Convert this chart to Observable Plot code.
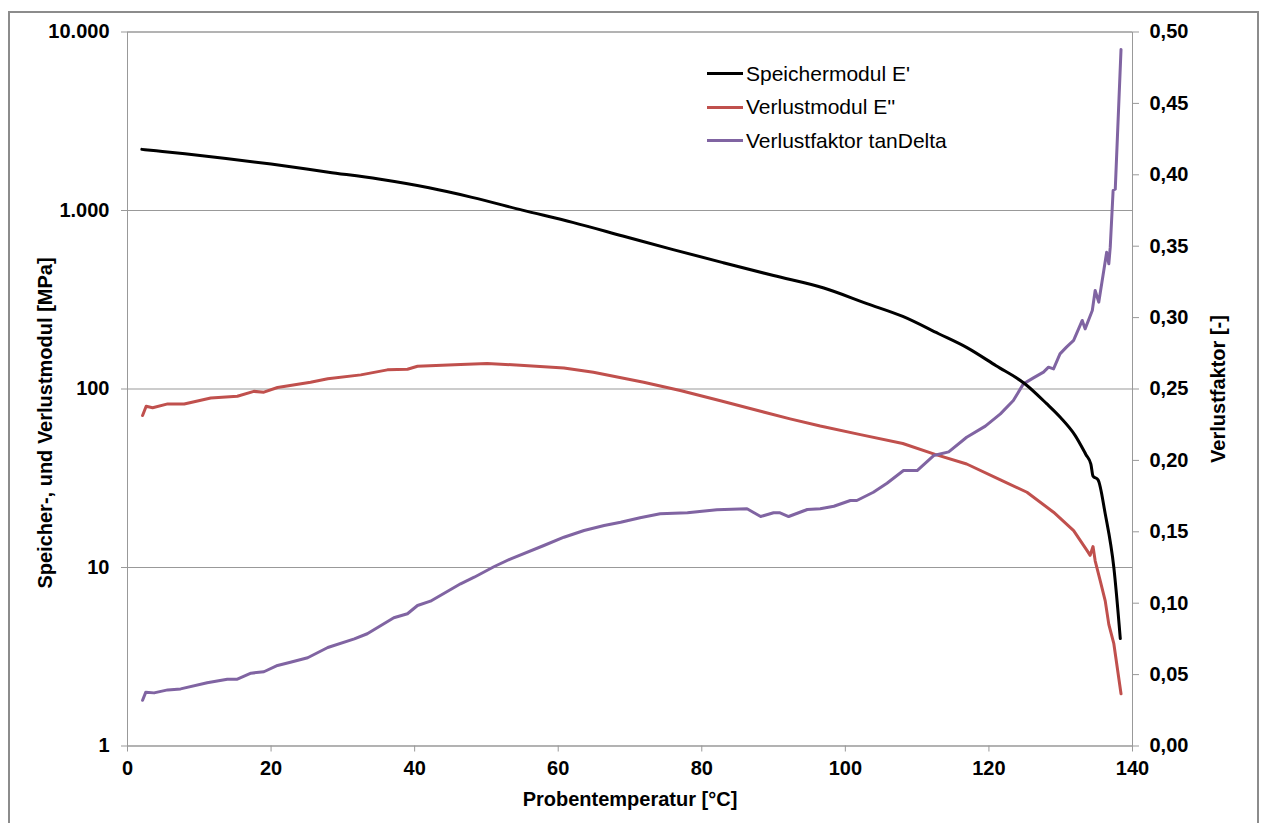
<!DOCTYPE html>
<html><head><meta charset="utf-8">
<script src="https://cdn.jsdelivr.net/npm/d3@7"></script>
<script src="https://cdn.jsdelivr.net/npm/@observablehq/plot@0.6"></script>
<style>
body{margin:0;background:#fff;font-family:"Liberation Sans",Arial,sans-serif;}
#wrap{position:relative;width:1261px;height:823px;overflow:hidden;background:#fff}
#frame{position:absolute;left:8px;top:11px;width:1251px;height:900px;border:2px solid #8c8c8c;box-sizing:border-box}
#chart{position:absolute;left:0;top:0}
#legend{position:absolute;left:707px;top:57px;font-size:21px;color:#000;font-family:"Liberation Sans",Arial,sans-serif}
#legend .row{display:flex;align-items:center;height:33.5px}
#legend .sw{width:36px;height:3px;margin-right:3px}
</style></head>
<body>
<div id="wrap"><div id="frame"></div><div id="chart"></div><div id="legend"></div></div>
<script>
// Speichermodul E' [MPa]
const tempStorage = [2, 4, 8, 14, 20, 28, 35, 42, 48, 55, 62, 69, 76, 83, 90, 97, 103, 108, 113, 117, 121, 125, 128, 130, 132, 133.5, 134.2, 134.5, 135.2, 136.2, 137.4, 138.3];
const storageModulus = [2200, 2160, 2080, 1950, 1820, 1640, 1500, 1340, 1185, 1005, 858, 720, 604, 510, 432, 368, 301, 255, 204, 170, 135, 107, 83, 69, 55, 43, 38, 32.5, 31, 20, 10, 4.0];
// Verlustmodul E'' [MPa]
const tempLoss = [2.1, 2.6, 3.5, 5.6, 7.9, 11.6, 15.3, 17.6, 19, 20.9, 25.5, 27.9, 32.5, 36.2, 39, 40.4, 46.4, 50.1, 54.7, 60.8, 64.9, 71.9, 77, 82.6, 88.2, 92.3, 96.5, 102.1, 108, 112.5, 116.9, 121.6, 125.3, 129, 131.8, 133.7, 134.1, 134.5, 134.8, 135.5, 136.2, 136.7, 137.4, 138.4];
const lossModulus = [71, 80, 78.5, 82.5, 82.5, 89, 91, 97, 96, 102, 109, 114, 120, 128, 129, 134, 137, 139, 136, 131, 124, 109, 98, 86, 75, 68, 62, 55.5, 49.5, 43, 38, 31, 26.4, 20.4, 16.1, 12.4, 11.7, 13.1, 10.9, 8.45, 6.5, 4.8, 3.74, 1.96];
// Verlustfaktor tanDelta [-]
const tempTan = [2.1, 2.55, 3.7, 5.6, 7.4, 11.1, 13.9, 15.3, 17.2, 19, 20.9, 22.7, 25.1, 27.9, 31.6, 33.4, 37.1, 39, 40.4, 42.2, 46.4, 48.3, 51.1, 53.4, 58, 60.8, 63.6, 66.4, 68.7, 71.4, 74.2, 78, 82.1, 86.3, 88.2, 90, 90.9, 92.1, 94.7, 96.5, 98.4, 100.7, 101.6, 103.9, 105.8, 108.1, 110, 112.3, 114.4, 116.9, 119.5, 121.6, 123.4, 124.8, 126.2, 127.6, 128.3, 129, 129.9, 130.8, 131.8, 133, 133.4, 134.4, 134.8, 135.3, 136, 136.4, 136.7, 136.9, 137.3, 137.6, 138.4];
const lossFactor = [0.032, 0.0377, 0.0372, 0.0393, 0.040, 0.0443, 0.0468, 0.0468, 0.051, 0.052, 0.0564, 0.0587, 0.0618, 0.069, 0.075, 0.0786, 0.0898, 0.0926, 0.0984, 0.1014, 0.1136, 0.1182, 0.1257, 0.1311, 0.1404, 0.1462, 0.1509, 0.1544, 0.1567, 0.1598, 0.1626, 0.1633, 0.1654, 0.1661, 0.1607, 0.1633, 0.1633, 0.1607, 0.1656, 0.1661, 0.1679, 0.1719, 0.1719, 0.1777, 0.184, 0.1929, 0.1929, 0.2034, 0.206, 0.2162, 0.224, 0.2326, 0.2419, 0.2536, 0.2578, 0.2618, 0.2653, 0.2641, 0.2746, 0.2793, 0.284, 0.298, 0.2921, 0.305, 0.319, 0.3108, 0.333, 0.3458, 0.3377, 0.3493, 0.389, 0.390, 0.4877];

const xTicks = [0, 20, 40, 60, 80, 100, 120, 140];
const yTicks = [1, 10, 100, 1000, 10000];
const tanTicks = [0, 0.05, 0.10, 0.15, 0.20, 0.25, 0.30, 0.35, 0.40, 0.45, 0.50];

const seriesNames = ["Speichermodul E'", "Verlustmodul E''", "Verlustfaktor tanDelta"];
const seriesColors = ["#000000", "#c0504d", "#8064a2"];
const leftTitle = "Speicher-, und Verlustmodul [MPa]";

// The y scale works in decades (log10 of MPa); the right axis 0..0.5 is mapped linearly onto 0..4 decades
const tanMax = 0.5, decades = 4;
const fromMPa = v => Math.log10(v);
const fromTan = t => t / tanMax * decades;

const de = d3.formatLocale({decimal: ",", thousands: ".", grouping: [3], currency: ["", "€"]});
const fmtLeft = de.format(",d");
const fmtTan = t => t.toFixed(2).replace(".", ",");

const storage = tempStorage.map((t, i) => ({t, v: storageModulus[i]}));
const loss = tempLoss.map((t, i) => ({t, v: lossModulus[i]}));
const tan = tempTan.map((t, i) => ({t, v: lossFactor[i]}));

const chart = Plot.plot({
  width: 1261, height: 823,
  marginLeft: 127, marginRight: 129, marginTop: 31.5, marginBottom: 77.5,
  style: {fontFamily: "'Liberation Sans', Arial, sans-serif", fontSize: "20px", fontWeight: "bold", color: "#000", background: "transparent", overflow: "visible"},
  x: {domain: [0, 140]},
  y: {type: "linear", domain: [0, decades]},
  marks: [
    Plot.gridY(yTicks.map(fromMPa), {stroke: "#999", strokeOpacity: 1}),
    Plot.frame({stroke: "#999"}),
    Plot.axisX(xTicks, {tickSize: 6, tickPadding: 9, stroke: "#999", fill: "#000", tickFormat: d => String(d),
      label: "Probentemperatur [°C]", labelAnchor: "center", labelOffset: 60, labelArrow: "none"}),
    Plot.axisY(yTicks.map(fromMPa), {anchor: "left", tickSize: 6, tickPadding: 12, stroke: "#999", fill: "#000",
      tickFormat: d => fmtLeft(Math.round(Math.pow(10, d))), label: null}),
    Plot.text([leftTitle], {frameAnchor: "left", rotate: -90, dx: -82, dy: 34, textAnchor: "middle", lineAnchor: "middle", fill: "#000", fontWeight: "bold", fontSize: 20}),
    Plot.axisY(tanTicks.map(fromTan), {anchor: "right", tickSize: 6, tickPadding: 11, stroke: "#999", fill: "#000",
      tickFormat: d => fmtTan(d / decades * tanMax),
      label: "Verlustfaktor [-]", labelAnchor: "center", labelOffset: 92, labelArrow: "none"}),
    Plot.line(loss, {x: "t", y: d => fromMPa(d.v), stroke: seriesColors[1], strokeWidth: 3, curve: "linear"}),
    Plot.line(tan, {x: "t", y: d => fromTan(d.v), stroke: seriesColors[2], strokeWidth: 3, curve: "linear"}),
    Plot.line(storage, {x: "t", y: d => fromMPa(d.v), stroke: seriesColors[0], strokeWidth: 3, curve: "monotone-x"})
  ]
});
document.getElementById("chart").appendChild(chart);

const lg = document.getElementById("legend");
seriesNames.forEach((n, i) => {
  const r = document.createElement("div"); r.className = "row";
  const s = document.createElement("div"); s.className = "sw"; s.style.background = seriesColors[i];
  const tx = document.createElement("span"); tx.textContent = n;
  r.appendChild(s); r.appendChild(tx); lg.appendChild(r);
});
</script>
</body></html>
